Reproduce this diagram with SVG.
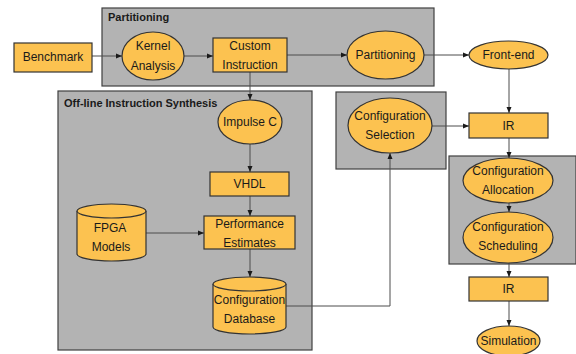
<svg xmlns="http://www.w3.org/2000/svg" width="576" height="354" viewBox="0 0 576 354">
  <style>
    .grp { fill: #b3b3b3; stroke: #404040; stroke-width: 1.2; }
    .node { fill: #fcc250; stroke: #333333; stroke-width: 1.2; }
    .lbl { font-family: "Liberation Sans", Arial, sans-serif; font-size: 12px; fill: #1a1a1a; text-anchor: middle; }
    .ttl { font-family: "Liberation Sans", Arial, sans-serif; font-size: 11px; font-weight: bold; fill: #1a1a1a; }
    .edge { fill: none; stroke: #4d4d4d; stroke-width: 1; }
  </style>
  <defs>
    <marker id="arrow" markerWidth="6" markerHeight="6" refX="6" refY="3" orient="auto" markerUnits="userSpaceOnUse">
      <path d="M0,0.5 L6,3 L0,5.5 Z" fill="#1a1a1a"/>
    </marker>
  </defs>

  <rect width="576" height="354" fill="#ffffff"/>

  <!-- grouping panels -->
  <g id="panel-partitioning">
    <rect class="grp" x="102" y="8" width="332" height="78"/>
    <text class="ttl" x="108" y="21">Partitioning</text>
  </g>
  <g id="panel-offline">
    <rect class="grp" x="58" y="91" width="254" height="259"/>
    <text class="ttl" x="64" y="107">Off-line Instruction Synthesis</text>
  </g>
  <g id="panel-selection">
    <rect class="grp" x="336" y="92" width="110" height="77"/>
  </g>
  <g id="panel-runtime">
    <rect class="grp" x="449" y="156" width="127" height="108"/>
  </g>

  <!-- connectors -->
  <g id="connectors">
    <line class="edge" x1="92" y1="56" x2="122" y2="56" marker-end="url(#arrow)"/>
    <line class="edge" x1="184" y1="56" x2="213" y2="56" marker-end="url(#arrow)"/>
    <line class="edge" x1="287" y1="55" x2="347" y2="55" marker-end="url(#arrow)"/>
    <line class="edge" x1="424" y1="55" x2="469" y2="55" marker-end="url(#arrow)"/>
    <line class="edge" x1="250" y1="72" x2="250" y2="100" marker-end="url(#arrow)"/>
    <line class="edge" x1="250" y1="144" x2="250" y2="172" marker-end="url(#arrow)"/>
    <line class="edge" x1="250" y1="196" x2="250" y2="216" marker-end="url(#arrow)"/>
    <line class="edge" x1="146" y1="233" x2="204" y2="233" marker-end="url(#arrow)"/>
    <line class="edge" x1="250" y1="249" x2="250" y2="277" marker-end="url(#arrow)"/>
    <polyline class="edge" points="286,306 390,306 390,153" marker-end="url(#arrow)"/>
    <line class="edge" x1="432" y1="126" x2="469" y2="126" marker-end="url(#arrow)"/>
    <line class="edge" x1="509" y1="69" x2="509" y2="113" marker-end="url(#arrow)"/>
    <line class="edge" x1="509" y1="138" x2="509" y2="158" marker-end="url(#arrow)"/>
    <line class="edge" x1="509" y1="203" x2="509" y2="212" marker-end="url(#arrow)"/>
    <line class="edge" x1="509" y1="263" x2="509" y2="277" marker-end="url(#arrow)"/>
    <line class="edge" x1="509" y1="301" x2="509" y2="326" marker-end="url(#arrow)"/>
  </g>

  <!-- nodes -->
  <g id="benchmark">
    <rect class="node" x="14" y="43" width="78" height="29"/>
    <text class="lbl" x="53" y="61">Benchmark</text>
  </g>
  <g id="kernel-analysis">
    <ellipse class="node" cx="153" cy="56" rx="31" ry="24"/>
    <text class="lbl" x="153" y="50">Kernel</text>
    <text class="lbl" x="153" y="70">Analysis</text>
  </g>
  <g id="custom-instruction">
    <rect class="node" x="213" y="38" width="74" height="34"/>
    <text class="lbl" x="250" y="50">Custom</text>
    <text class="lbl" x="250" y="69">Instruction</text>
  </g>
  <g id="partitioning">
    <ellipse class="node" cx="385.5" cy="55" rx="38.5" ry="24"/>
    <text class="lbl" x="385.5" y="59">Partitioning</text>
  </g>
  <g id="front-end">
    <ellipse class="node" cx="508.5" cy="55" rx="39.5" ry="14"/>
    <text class="lbl" x="508.5" y="59">Front-end</text>
  </g>
  <g id="impulse-c">
    <ellipse class="node" cx="250" cy="122" rx="32" ry="22"/>
    <text class="lbl" x="250" y="126">Impulse C</text>
  </g>
  <g id="vhdl">
    <rect class="node" x="210" y="172" width="79" height="24"/>
    <text class="lbl" x="249.5" y="188">VHDL</text>
  </g>
  <g id="performance-estimates">
    <rect class="node" x="204" y="216" width="91" height="33"/>
    <text class="lbl" x="249.5" y="228">Performance</text>
    <text class="lbl" x="249.5" y="247">Estimates</text>
  </g>
  <g id="fpga-models">
    <path class="node" d="M77,211 A34.5,7 0 0 1 146,211 L146,254 A34.5,7 0 0 1 77,254 Z"/>
    <path class="node" d="M77,211 A34.5,7 0 0 0 146,211" fill="none"/>
    <text class="lbl" x="110" y="232">FPGA</text>
    <text class="lbl" x="111" y="251">Models</text>
  </g>
  <g id="configuration-database">
    <path class="node" d="M213,284 A36.5,7 0 0 1 286,284 L286,327 A36.5,7 0 0 1 213,327 Z"/>
    <path class="node" d="M213,284 A36.5,7 0 0 0 286,284" fill="none"/>
    <text class="lbl" x="249.5" y="304">Configuration</text>
    <text class="lbl" x="249.5" y="323">Database</text>
  </g>
  <g id="configuration-selection">
    <ellipse class="node" cx="390" cy="125.5" rx="42" ry="27.5"/>
    <text class="lbl" x="390" y="120">Configuration</text>
    <text class="lbl" x="390" y="139">Selection</text>
  </g>
  <g id="ir-1">
    <rect class="node" x="469" y="113" width="79" height="25"/>
    <text class="lbl" x="508.5" y="130">IR</text>
  </g>
  <g id="configuration-allocation">
    <ellipse class="node" cx="508" cy="180.5" rx="45" ry="22.5"/>
    <text class="lbl" x="508" y="175">Configuration</text>
    <text class="lbl" x="508" y="194">Allocation</text>
  </g>
  <g id="configuration-scheduling">
    <ellipse class="node" cx="508" cy="237.5" rx="45" ry="25.5"/>
    <text class="lbl" x="508" y="231">Configuration</text>
    <text class="lbl" x="508" y="250">Scheduling</text>
  </g>
  <g id="ir-2">
    <rect class="node" x="469" y="277" width="79" height="24"/>
    <text class="lbl" x="508.5" y="293">IR</text>
  </g>
  <g id="simulation">
    <ellipse class="node" cx="508.5" cy="341" rx="31.5" ry="15"/>
    <text class="lbl" x="508.5" y="345">Simulation</text>
  </g>
</svg>
